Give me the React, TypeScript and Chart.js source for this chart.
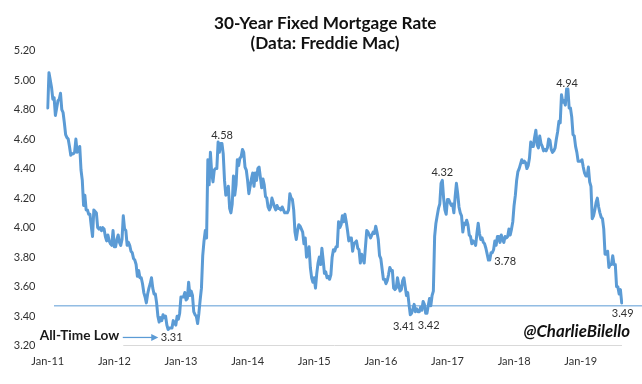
import React, { useEffect, useRef } from "react";
import { Chart, registerables } from "chart.js";

Chart.register(...registerables);

// Freddie Mac 30-year fixed mortgage rate, weekly (%), Feb 2011 -> Sep 2019
const rates2011 = [
  4.81, 5.05, 5.0, 4.95,
  4.87, 4.88, 4.76, 4.81, 4.86,
  4.87, 4.91, 4.8, 4.78,
  4.71, 4.63, 4.61, 4.6,
  4.55, 4.49, 4.5, 4.5, 4.51,
  4.6, 4.51, 4.52, 4.55,
  4.39, 4.32, 4.15, 4.22,
  4.12, 4.12, 4.09, 4.09, 4.01,
  3.94, 4.12, 4.11, 4.1,
  4.0, 3.99, 4.0, 3.98,
  4.0, 3.99, 3.94, 3.91, 3.95,
];
const rates2012 = [
  3.91, 3.89, 3.88, 3.98,
  3.87, 3.87, 3.92, 3.95,
  3.9, 3.88, 3.92, 4.08, 3.99,
  3.98, 3.88, 3.9, 3.88,
  3.84, 3.83, 3.79, 3.78, 3.75,
  3.67, 3.71, 3.66, 3.66,
  3.62, 3.56, 3.53, 3.49,
  3.55, 3.59, 3.62, 3.66, 3.59,
  3.55, 3.55, 3.49, 3.4,
  3.36, 3.39, 3.37, 3.41,
  3.39, 3.4, 3.34, 3.31, 3.32,
  3.32, 3.32, 3.37, 3.35,
];
const rates2013 = [
  3.34, 3.4, 3.38, 3.42, 3.53,
  3.53, 3.53, 3.56, 3.51,
  3.52, 3.63, 3.54, 3.57,
  3.54, 3.43, 3.41, 3.4,
  3.35, 3.42, 3.51, 3.59, 3.81,
  3.91, 3.98, 3.93, 4.46,
  4.29, 4.51, 4.37, 4.31,
  4.39, 4.4, 4.4, 4.58, 4.51,
  4.57, 4.57, 4.5, 4.32,
  4.22, 4.23, 4.28, 4.13, 4.1,
  4.16, 4.35, 4.22, 4.29,
  4.46, 4.42, 4.47, 4.48,
];
const rates2014 = [
  4.53, 4.51, 4.41, 4.39, 4.32,
  4.23, 4.28, 4.33, 4.37,
  4.28, 4.37, 4.32, 4.4,
  4.41, 4.34, 4.27, 4.33,
  4.29, 4.21, 4.2, 4.14, 4.12,
  4.14, 4.2, 4.17, 4.14,
  4.12, 4.15, 4.13, 4.13, 4.12,
  4.14, 4.12, 4.1, 4.1,
  4.1, 4.12, 4.23, 4.2,
  4.19, 4.12, 3.97, 3.92, 3.98,
  4.02, 4.01, 3.99, 3.97,
  3.89, 3.93, 3.8, 3.83, 3.87,
];
const rates2015 = [
  3.73, 3.66, 3.63, 3.66,
  3.59, 3.69, 3.76, 3.8,
  3.75, 3.86, 3.78, 3.69,
  3.7, 3.66, 3.67, 3.65, 3.68,
  3.8, 3.85, 3.84, 3.87,
  3.87, 4.04, 4.0, 4.02,
  4.08, 4.04, 4.09, 4.04, 3.98,
  3.91, 3.93, 3.93, 3.84,
  3.89, 3.9, 3.91, 3.86,
  3.85, 3.76, 3.82, 3.79, 3.76,
  3.87, 3.98, 3.97, 3.95,
  3.93, 3.95, 3.97, 3.96, 4.01,
];
const rates2016 = [
  3.97, 3.92, 3.81, 3.79,
  3.72, 3.65, 3.65, 3.62,
  3.64, 3.68, 3.73, 3.71, 3.71,
  3.59, 3.58, 3.59, 3.66,
  3.61, 3.57, 3.58, 3.64,
  3.66, 3.6, 3.54, 3.56, 3.48,
  3.41, 3.42, 3.45, 3.48,
  3.43, 3.45, 3.43, 3.43,
  3.46, 3.44, 3.5, 3.48, 3.42,
  3.42, 3.47, 3.52, 3.47,
  3.54, 3.57, 3.94, 4.03,
  4.08, 4.13, 4.16, 4.3, 4.32,
];
const rates2017 = [
  4.2, 4.12, 4.09, 4.19,
  4.19, 4.17, 4.15, 4.16,
  4.1, 4.21, 4.3, 4.23, 4.14,
  4.1, 4.08, 3.97, 4.03,
  4.02, 4.05, 4.02, 3.95,
  3.94, 3.89, 3.91, 3.9, 3.88,
  3.96, 4.03, 3.96, 3.92,
  3.93, 3.9, 3.89, 3.86, 3.82,
  3.78, 3.78, 3.83, 3.83,
  3.85, 3.91, 3.88, 3.94,
  3.94, 3.9, 3.95, 3.92, 3.9,
  3.94, 3.93, 3.94, 3.99,
];
const rates2018 = [
  3.95, 3.99, 4.04, 4.15,
  4.22, 4.32, 4.38, 4.4,
  4.43, 4.46, 4.44, 4.45, 4.44,
  4.4, 4.42, 4.47, 4.58,
  4.55, 4.55, 4.61, 4.66, 4.56,
  4.54, 4.62, 4.57, 4.55,
  4.52, 4.53, 4.52, 4.54,
  4.6, 4.59, 4.53, 4.51, 4.52,
  4.54, 4.6, 4.65, 4.72,
  4.71, 4.9, 4.85, 4.86,
  4.83, 4.94, 4.94, 4.81, 4.81,
  4.75, 4.63, 4.62, 4.55,
];
const rates2019 = [
  4.51, 4.45, 4.45, 4.45, 4.46,
  4.41, 4.37, 4.35, 4.35,
  4.41, 4.31, 4.28, 4.06,
  4.08, 4.12, 4.17, 4.2,
  4.14, 4.1, 4.07, 4.06, 3.99,
  3.82, 3.82, 3.84, 3.73,
  3.75, 3.75, 3.81, 3.75,
  3.75, 3.6, 3.6, 3.55, 3.58,
  3.49,
];

const rates = [
  ...rates2011, ...rates2012, ...rates2013, ...rates2014, ...rates2015,
  ...rates2016, ...rates2017, ...rates2018, ...rates2019,
];

const yearTickLabels = ["Jan-11", "Jan-12", "Jan-13", "Jan-14", "Jan-15", "Jan-16", "Jan-17", "Jan-18", "Jan-19"];
const weeksPerYearLabel = 52;
const weekLabels = rates.map((_, i) =>
  i % weeksPerYearLabel === 0 ? yearTickLabels[i / weeksPerYearLabel] ?? "" : ""
);

const yMin = 3.2;
const yMax = 5.2;
const yStep = 0.2;
const referenceLevel = 3.47;

// labelled points: index into rates, label offset from the point
const labelledPoints = [
  { index: 94, dx: 3.5, dy: 8 },
  { index: 133, dx: 4, dy: -7 },
  { index: 283, dx: -6.5, dy: 12 },
  { index: 296, dx: 1.7, dy: 12.3 },
  { index: 308, dx: 0, dy: -8.4 },
  { index: 344, dx: 16.7, dy: 1.6 },
  { index: 405, dx: 0.5, dy: -5 },
  { index: 448, dx: 1, dy: 10.3 },
];

const titleLines = ["30-Year Fixed Mortgage Rate", "(Data: Freddie Mac)"];
const lowNote = "All-Time Low";
const lowNoteIndex = 94;
const watermark = "@CharlieBilello";

const lineColor = "#5B9BD5";
const textColor = "#303030";
const family = "Lato, 'Open Sans', sans-serif";

function fitSize(ctx: CanvasRenderingContext2D, text: string, style: string, width: number) {
  ctx.font = `${style} 100px ${family}`;
  const w = ctx.measureText(text).width;
  return (100 * width) / w;
}

const annotations = {
  id: "annotations",
  beforeDatasetsDraw(chart: any) {
    const ctx = chart.ctx as CanvasRenderingContext2D;
    const ys = chart.scales.y;
    const area = chart.chartArea;
    const y = ys.getPixelForValue(referenceLevel);
    ctx.save();
    ctx.strokeStyle = lineColor;
    ctx.lineWidth = 1;
    ctx.beginPath();
    ctx.moveTo(area.left + 6.3, y);
    ctx.lineTo(chart.width, y);
    ctx.stroke();
    ctx.restore();
  },
  afterDraw(chart: any) {
    const ctx = chart.ctx as CanvasRenderingContext2D;
    const xs = chart.scales.x;
    const ys = chart.scales.y;
    const area = chart.chartArea;
    ctx.save();

    // Title
    const tSize = fitSize(ctx, titleLines[0], "bold", 222.7);
    ctx.font = `bold ${tSize}px ${family}`;
    ctx.fillStyle = "#111";
    ctx.textAlign = "center";
    ctx.textBaseline = "alphabetic";
    ctx.fillText(titleLines[0], 325.3, 29);
    ctx.fillText(titleLines[1], 325, 49.3);

    // point labels
    ctx.font = `11px ${family}`;
    ctx.fillStyle = textColor;
    ctx.textBaseline = "middle";
    ctx.textAlign = "center";
    let lowLabel = { x: 0, y: 0, w: 0 };
    for (const p of labelledPoints) {
      const v = rates[p.index];
      const px = xs.getPixelForValue(p.index);
      const py = ys.getPixelForValue(v);
      const text = v.toFixed(2);
      const lx = px + p.dx;
      const ly = py + p.dy;
      ctx.fillText(text, lx, ly);
      if (p.index === lowNoteIndex) lowLabel = { x: lx, y: ly, w: ctx.measureText(text).width };
    }

    // All-time low note + arrow
    const tipX = lowLabel.x - lowLabel.w / 2 - 2.5;
    const startX = tipX - 35.5;
    const ay = lowLabel.y;
    const noteRight = startX - 3.5;
    const nSize = fitSize(ctx, lowNote, "bold", 79.7);
    ctx.fillStyle = "#ffffff";
    ctx.fillRect(area.left - 12, area.bottom - 18, noteRight - area.left + 16, 22);
    ctx.font = `bold ${nSize}px ${family}`;
    ctx.fillStyle = "#1a1a1a";
    ctx.textAlign = "right";
    ctx.textBaseline = "alphabetic";
    ctx.fillText(lowNote, noteRight, 340);

    ctx.strokeStyle = lineColor;
    ctx.fillStyle = lineColor;
    ctx.lineWidth = 1.25;
    ctx.beginPath();
    ctx.moveTo(startX, ay);
    ctx.lineTo(tipX - 6, ay);
    ctx.stroke();
    ctx.beginPath();
    ctx.moveTo(tipX, ay);
    ctx.lineTo(tipX - 7, ay - 3.5);
    ctx.lineTo(tipX - 7, ay + 3.5);
    ctx.closePath();
    ctx.fill();

    // watermark
    const wSize = fitSize(ctx, watermark, "italic bold", 106.7);
    ctx.font = `italic bold ${wSize}px ${family}`;
    ctx.fillStyle = "#111";
    ctx.textAlign = "right";
    ctx.fillText(watermark, area.right + 8.3, 336.7);

    ctx.restore();
  },
};

export default function App() {
  const ref = useRef<HTMLCanvasElement>(null);
  useEffect(() => {
    const canvas = ref.current;
    if (!canvas) return;
    const chart = new Chart(canvas, {
      type: "line",
      data: {
        labels: weekLabels,
        datasets: [
          {
            data: rates,
            borderColor: lineColor,
            borderWidth: 3,
            pointRadius: 0,
            pointHoverRadius: 0,
            tension: 0,
            fill: false,
            borderJoinStyle: "round",
            borderCapStyle: "round",
          },
        ],
      },
      options: {
        responsive: false,
        animation: false,
        events: [],
        layout: { padding: { left: 0, right: 20.3, top: 50.5, bottom: 0 } },
        plugins: {
          legend: { display: false },
          title: { display: false },
          tooltip: { enabled: false },
        },
        scales: {
          x: {
            type: "category",
            offset: false,
            grid: { display: false, drawTicks: false },
            border: { display: true, color: "#d9d9d9", width: 1 },
            ticks: {
              autoSkip: false,
              maxRotation: 0,
              minRotation: 0,
              padding: 8.7,
              color: textColor,
              font: { family, size: 11 },
              callback: (_v: any, i: number) => weekLabels[i] || null,
            },
            afterFit: (s: any) => {
              s.height = 38.3;
            },
          },
          y: {
            min: yMin,
            max: yMax,
            grid: { display: false, drawTicks: false },
            border: { display: false },
            ticks: {
              stepSize: yStep,
              padding: 12.2,
              color: textColor,
              font: { family, size: 11 },
              callback: (v: any) => Number(v).toFixed(2),
            },
            afterFit: (s: any) => {
              s.width = 47.7;
            },
          },
        },
      } as any,
      plugins: [annotations],
    });
    return () => chart.destroy();
  }, []);
  return (
    <canvas
      ref={ref}
      width={642}
      height={384}
      style={{ position: "absolute", left: 0, top: 0, width: 642, height: 384 }}
    />
  );
}
